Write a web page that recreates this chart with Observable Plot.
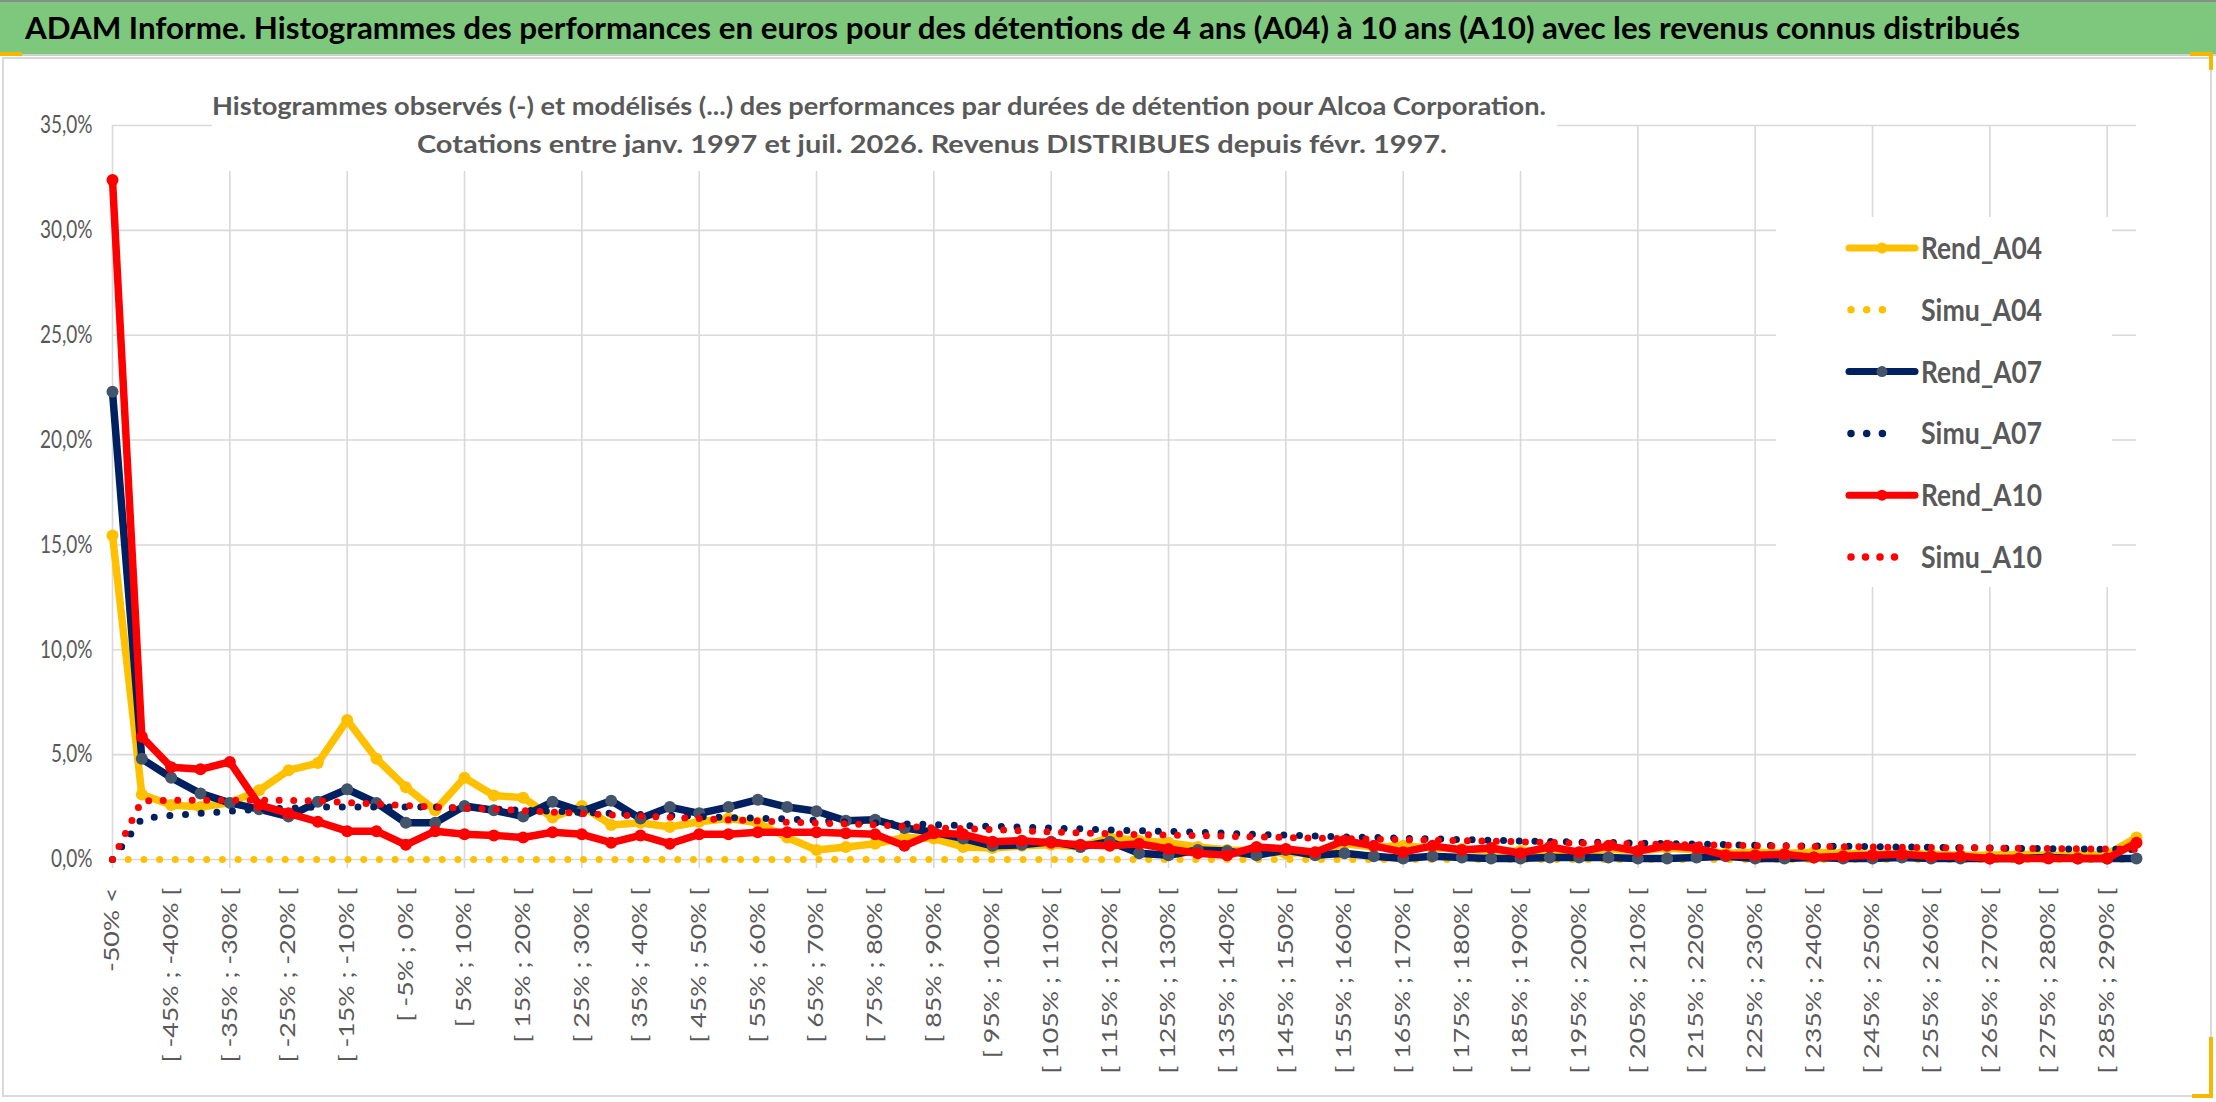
<!DOCTYPE html>
<html>
<head>
<meta charset="utf-8">
<script src="https://cdn.jsdelivr.net/npm/d3@7"></script>
<script src="https://cdn.jsdelivr.net/npm/@observablehq/plot@0.6"></script>
<style>
  body { margin: 0; width: 2216px; height: 1102px; position: relative; overflow: hidden; background: #fff; font-family: Lato, sans-serif; }
  #bar { position: absolute; left: 0; top: 0; width: 2216px; height: 52px; background: #7dc87d; border-top: 2px solid #8c8c8c; border-bottom: 2px solid #d0d0d0; }
  #frame { position: absolute; left: 2px; top: 57px; width: 2206px; height: 1036px; border: 2px solid #d9d9d9; }
  #chart { position: absolute; left: 0; top: 57px; }
  #subtitle { position: absolute; left: 212px; top: 80px; }
  #legend { position: absolute; left: 1776px; top: 217px; }
  .sel { position: absolute; background: #f5b800; }
</style>
</head>
<body>
<div id="bar"><svg id="titleSvg" width="2216" height="52"></svg></div>
<div id="frame"></div>
<div id="chart"></div>
<svg id="subtitle" width="1345" height="91"></svg>
<svg id="legend" width="336" height="370"></svg>
<div class="sel" style="left:0;top:52px;width:22px;height:4px"></div>
<div class="sel" style="left:2190px;top:52px;width:22px;height:4px"></div>
<div class="sel" style="left:2209px;top:52px;width:4px;height:18px"></div>
<div class="sel" style="left:2209px;top:1037px;width:4px;height:61px"></div>
<div class="sel" style="left:2192px;top:1094px;width:21px;height:4px"></div>
<script>
// texts
const title = "ADAM Informe. Histogrammes des performances en euros pour des détentions de 4 ans (A04) à 10 ans (A10) avec les revenus connus distribués";
const subtitle1 = "Histogrammes observés (-) et modélisés (...) des performances par durées de détention pour Alcoa Corporation.";
const subtitle2 = "Cotations entre janv. 1997 et juil. 2026. Revenus DISTRIBUES depuis févr. 1997.";

// categories (classes de performance)
const categories = [
  "-50% <",
  "[ -50% ; -45% [", "[ -45% ; -40% [", "[ -40% ; -35% [", "[ -35% ; -30% [", "[ -30% ; -25% [",
  "[ -25% ; -20% [", "[ -20% ; -15% [", "[ -15% ; -10% [", "[ -10% ; -5% [", "[ -5% ; 0% [",
  "[ 0% ; 5% [", "[ 5% ; 10% [", "[ 10% ; 15% [", "[ 15% ; 20% [", "[ 20% ; 25% [",
  "[ 25% ; 30% [", "[ 30% ; 35% [", "[ 35% ; 40% [", "[ 40% ; 45% [", "[ 45% ; 50% [",
  "[ 50% ; 55% [", "[ 55% ; 60% [", "[ 60% ; 65% [", "[ 65% ; 70% [", "[ 70% ; 75% [",
  "[ 75% ; 80% [", "[ 80% ; 85% [", "[ 85% ; 90% [", "[ 90% ; 95% [", "[ 95% ; 100% [",
  "[ 100% ; 105% [", "[ 105% ; 110% [", "[ 110% ; 115% [", "[ 115% ; 120% [", "[ 120% ; 125% [",
  "[ 125% ; 130% [", "[ 130% ; 135% [", "[ 135% ; 140% [", "[ 140% ; 145% [", "[ 145% ; 150% [",
  "[ 150% ; 155% [", "[ 155% ; 160% [", "[ 160% ; 165% [", "[ 165% ; 170% [", "[ 170% ; 175% [",
  "[ 175% ; 180% [", "[ 180% ; 185% [", "[ 185% ; 190% [", "[ 190% ; 195% [", "[ 195% ; 200% [",
  "[ 200% ; 205% [", "[ 205% ; 210% [", "[ 210% ; 215% [", "[ 215% ; 220% [", "[ 220% ; 225% [",
  "[ 225% ; 230% [", "[ 230% ; 235% [", "[ 235% ; 240% [", "[ 240% ; 245% [", "[ 245% ; 250% [",
  "[ 250% ; 255% [", "[ 255% ; 260% [", "[ 260% ; 265% [", "[ 265% ; 270% [", "[ 270% ; 275% [",
  "[ 275% ; 280% [", "[ 280% ; 285% [", "[ 285% ; 290% [", "> 290%"
];

// series, in %
const rendA04 = [15.45, 3.1, 2.6, 2.5, 2.7, 3.3, 4.25, 4.6, 6.65, 4.8,
  3.45, 2.35, 3.9, 3.05, 2.95, 2.0, 2.55, 1.65, 1.75, 1.55,
  1.8, 1.95, 1.75, 1.05, 0.45, 0.6, 0.75, 1.05, 1.0, 0.6,
  0.55, 0.65, 0.7, 0.6, 1.05, 0.9, 0.8, 0.6, 0.45, 0.4,
  0.3, 0.35, 0.75, 0.6, 0.65, 0.55, 0.5, 0.4, 0.4, 0.45,
  0.35, 0.5, 0.4, 0.55, 0.45, 0.3, 0.35, 0.3, 0.35, 0.3,
  0.25, 0.3, 0.25, 0.2, 0.2, 0.25, 0.2, 0.2, 0.25, 1.05];
const simuA04 = [0, 0, 0, 0, 0, 0, 0, 0, 0, 0,
  0, 0, 0, 0, 0, 0, 0, 0, 0, 0,
  0, 0, 0, 0, 0, 0, 0, 0, 0, 0,
  0, 0, 0, 0, 0, 0, 0, 0, 0, 0,
  0, 0, 0, 0, 0, 0, 0, 0, 0, 0,
  0, 0, 0, 0, 0, 0, 0, 0, 0, 0,
  0, 0, 0, 0, 0, 0, 0, 0, 0, 0];
const rendA07 = [22.3, 4.8, 3.9, 3.15, 2.7, 2.4, 2.05, 2.75, 3.35, 2.7,
  1.75, 1.75, 2.55, 2.35, 2.05, 2.75, 2.3, 2.8, 1.95, 2.5,
  2.2, 2.5, 2.85, 2.5, 2.3, 1.85, 1.9, 1.5, 1.3, 1.0,
  0.65, 0.7, 0.85, 0.6, 0.85, 0.3, 0.2, 0.45, 0.4, 0.2,
  0.45, 0.2, 0.3, 0.15, 0.05, 0.15, 0.1, 0.05, 0.05, 0.1,
  0.1, 0.1, 0.05, 0.05, 0.1, 0.15, 0.05, 0.05, 0.1, 0.05,
  0.05, 0.1, 0.05, 0.05, 0.05, 0.05, 0.1, 0.05, 0.05, 0.05];
const simuA07 = [0, 1.95, 2.1, 2.2, 2.3, 2.4, 2.45, 2.5, 2.5, 2.5,
  2.5, 2.5, 2.45, 2.4, 2.35, 2.3, 2.25, 2.2, 2.15, 2.1,
  2.05, 2.0, 1.97, 1.93, 1.87, 1.8, 1.74, 1.7, 1.66, 1.62,
  1.58, 1.54, 1.5, 1.46, 1.41, 1.37, 1.34, 1.3, 1.25, 1.2,
  1.16, 1.12, 1.08, 1.05, 1.01, 0.98, 0.95, 0.92, 0.88, 0.86,
  0.83, 0.81, 0.78, 0.76, 0.74, 0.71, 0.68, 0.66, 0.64, 0.63,
  0.61, 0.6, 0.58, 0.56, 0.55, 0.53, 0.52, 0.5, 0.49, 0.47];
const rendA10 = [32.4, 5.85, 4.4, 4.3, 4.65, 2.6, 2.2, 1.8, 1.35, 1.35,
  0.7, 1.35, 1.2, 1.15, 1.05, 1.3, 1.2, 0.8, 1.15, 0.75,
  1.2, 1.2, 1.3, 1.3, 1.3, 1.25, 1.2, 0.65, 1.25, 1.2,
  0.85, 0.9, 0.8, 0.7, 0.65, 0.75, 0.5, 0.3, 0.2, 0.6,
  0.5, 0.35, 0.9, 0.65, 0.35, 0.65, 0.45, 0.55, 0.3, 0.6,
  0.35, 0.65, 0.4, 0.65, 0.55, 0.2, 0.2, 0.25, 0.1, 0.15,
  0.2, 0.25, 0.15, 0.15, 0.05, 0.05, 0.05, 0.05, 0.05, 0.8];
const simuA10 = [0, 2.8, 2.82, 2.82, 2.82, 2.82, 2.82, 2.8, 2.72, 2.64,
  2.57, 2.5, 2.45, 2.4, 2.33, 2.26, 2.2, 2.13, 2.07, 2.01,
  1.95, 1.9, 1.84, 1.78, 1.74, 1.7, 1.65, 1.58, 1.51, 1.47,
  1.42, 1.37, 1.32, 1.27, 1.23, 1.19, 1.16, 1.14, 1.11, 1.08,
  1.05, 1.02, 0.99, 0.97, 0.94, 0.92, 0.9, 0.88, 0.84, 0.81,
  0.78, 0.76, 0.74, 0.72, 0.7, 0.68, 0.66, 0.64, 0.62, 0.61,
  0.6, 0.58, 0.57, 0.56, 0.55, 0.53, 0.52, 0.51, 0.5, 0.49];

// axis ticks
const yTicks = [0, 5, 10, 15, 20, 25, 30, 35];
const xTickCats = categories.filter((d, i) => i % 2 === 0);
const gridCats = categories.filter((d, i) => i % 4 === 0);

const yellow = "#FFC000", navy = "#002060", red = "#FF0000", slate = "#44546A";

// series styles
const seriesList = [
  {name: "Rend_A04", values: rendA04, color: yellow, marker: yellow, dotted: false},
  {name: "Simu_A04", values: simuA04, color: yellow, dotted: true, gap: 15.7, n: 4},
  {name: "Rend_A07", values: rendA07, color: navy, marker: slate, dotted: false},
  {name: "Simu_A07", values: simuA07, color: navy, dotted: true, gap: 15.7, n: 4},
  {name: "Rend_A10", values: rendA10, color: red, marker: red, dotted: false},
  {name: "Simu_A10", values: simuA10, color: red, dotted: true, gap: 14.5, n: 5}
];

const rows = (vals) => categories.map((c, i) => ({cat: c, v: vals[i]}));

let seriesMarks = [];
seriesList.forEach(s => {
  const data = rows(s.values);
  if (s.dotted) {
    seriesMarks.push(Plot.line(data, {x: "cat", y: "v", stroke: s.color, strokeWidth: 7,
      strokeDasharray: "0 " + s.gap, strokeLinecap: "round", strokeLinejoin: "round"}));
  } else {
    seriesMarks.push(Plot.line(data, {x: "cat", y: "v", stroke: s.color, strokeWidth: 7.5,
      strokeLinecap: "round", strokeLinejoin: "round"}));
    seriesMarks.push(Plot.dot(data, {x: "cat", y: "v", r: 6, fill: s.marker}));
  }
});

const fmt = d => d.toFixed(1).replace(".", ",") + "%";

let chart = Plot.plot({
  width: 2216,
  height: 1045,
  marginLeft: 112,
  marginRight: 80,
  marginTop: 68,
  marginBottom: 243,
  style: {background: "transparent", color: "#595959", fontFamily: "Lato, sans-serif"},
  x: {type: "point", domain: categories, padding: 0, round: false},
  y: {domain: [0, 35]},
  marks: [
    Plot.gridY(yTicks, {stroke: "#d9d9d9", strokeOpacity: 1, strokeWidth: 1.6}),
    Plot.ruleX(gridCats, {y1: -0.43, y2: 35, stroke: "#d9d9d9", strokeWidth: 1.6}),
    Plot.axisY(yTicks, {tickSize: 0, tickPadding: 20, fontSize: 19, tickFormat: fmt, label: null}),
    Plot.axisX(xTickCats, {tickSize: 0, tickPadding: 28, tickRotate: -90, fontSize: 21, label: null}),
    ...seriesMarks
  ]
});

// Excel text is drawn taller than it is wide
d3.select(chart).selectAll('g[aria-label="x-axis tick label"] text').each(function () {
  this.setAttribute("transform", (this.getAttribute("transform") || "") + " scale(1.27,1)");
});
d3.select(chart).selectAll('g[aria-label="y-axis tick label"] text').each(function () {
  this.setAttribute("transform", (this.getAttribute("transform") || "") + " scale(1,1.27)");
});

d3.select("#chart").append(() => chart);

// title bar
d3.select("#titleSvg").append("text")
  .attr("x", 25).attr("y", 37)
  .attr("font-size", 31).attr("font-weight", 700)
  .attr("fill", "#000")
  .attr("textLength", 1995).attr("lengthAdjust", "spacingAndGlyphs")
  .text(title);

// chart title (white box over the grid)
let sub = d3.select("#subtitle");
sub.append("rect").attr("width", 1345).attr("height", 91).attr("fill", "#fff");
sub.append("text").attr("x", 667).attr("y", 35)
  .attr("text-anchor", "middle").attr("font-size", 25).attr("font-weight", 700).attr("fill", "#595959")
  .attr("textLength", 1334).attr("lengthAdjust", "spacingAndGlyphs")
  .text(subtitle1);
sub.append("text").attr("x", 720).attr("y", 73)
  .attr("text-anchor", "middle").attr("font-size", 25).attr("font-weight", 700).attr("fill", "#595959")
  .attr("textLength", 1030).attr("lengthAdjust", "spacingAndGlyphs")
  .text(subtitle2);

// legend
let leg = d3.select("#legend");
leg.append("rect").attr("width", 336).attr("height", 370).attr("fill", "#fff");
seriesList.forEach((s, i) => {
  const cy = 31 + i * 61.8;
  if (s.dotted) {
    leg.append("line").attr("x1", 75).attr("x2", 75 + s.gap * (s.n - 1)).attr("y1", cy).attr("y2", cy)
      .attr("stroke", s.color).attr("stroke-width", 7.5).attr("stroke-linecap", "round")
      .attr("stroke-dasharray", "0 " + s.gap);
  } else {
    leg.append("line").attr("x1", 73).attr("x2", 139).attr("y1", cy).attr("y2", cy)
      .attr("stroke", s.color).attr("stroke-width", 7).attr("stroke-linecap", "round");
    leg.append("circle").attr("cx", 106).attr("cy", cy).attr("r", 5.5).attr("fill", s.marker);
  }
  leg.append("text").attr("x", 145).attr("y", 0)
    .attr("transform", `translate(0,${cy}) scale(1,1.2)`)
    .attr("dy", "0.35em")
    .attr("font-size", 26).attr("font-weight", 700).attr("fill", "#595959")
    .attr("textLength", 121).attr("lengthAdjust", "spacingAndGlyphs")
    .text(s.name);
});
</script>
</body>
</html>
